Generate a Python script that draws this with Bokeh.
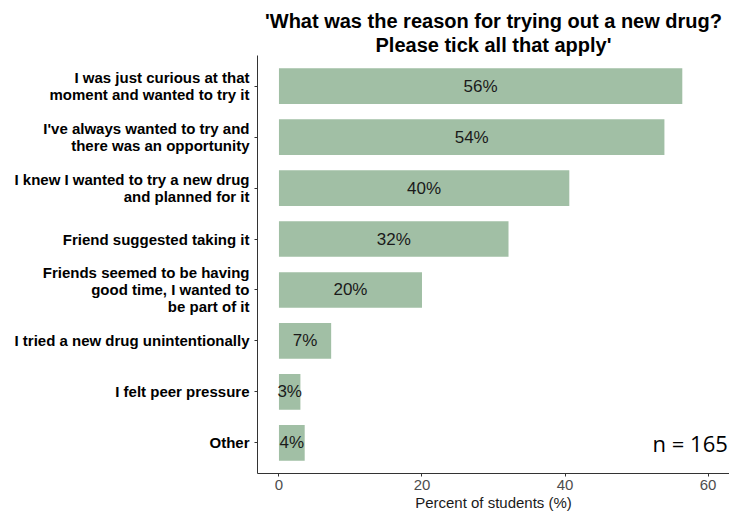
import numpy as np
from bokeh.plotting import figure
from bokeh.models import Range1d, FixedTicker, ColumnDataSource, Title
from bokeh.core.properties import value
from bokeh.embed import file_html
from bokeh.resources import INLINE

reasons = [
    "I was just curious at that\nmoment and wanted to try it",
    "I've always wanted to try and\nthere was an opportunity",
    "I knew I wanted to try a new drug\nand planned for it",
    "Friend suggested taking it",
    "Friends seemed to be having\ngood time, I wanted to\nbe part of it",
    "I tried a new drug unintentionally",
    "I felt peer pressure",
    "Other",
]
percents = [56.4, 53.9, 40.6, 32.1, 20.0, 7.3, 3.0, 3.6]
pct_labels = ["56%", "54%", "40%", "32%", "20%", "7%", "3%", "4%"]
x_ticks = [0, 20, 40, 60]
n_total = "n = 165"
title_lines = ["'What was the reason for trying out a new drug?", "Please tick all that apply'"]

n = len(reasons)
STEP = 6            # one category slot = 6 half-line units
LINE = 2            # one text line = 2 units
ypos = [STEP * (n - 1 - i) for i in range(n)]   # first reason on top
X_MIN, X_MAX = -3, 63

src = ColumnDataSource(dict(
    y=ypos,
    pct=percents,
    mid=[v / 2 for v in percents],
    lab=pct_labels,
))

# one major tick per text line so each line is right-aligned like ggplot;
# the visible tick marks are the minor ticks at category centres
line_ticks, overrides = [], {}
for y, r in zip(ypos, reasons):
    parts = r.split("\n")
    k = len(parts)
    for j, part in enumerate(parts):
        t = y + (k - 1 - 2 * j) * LINE // 2
        line_ticks.append(t)
        overrides[t] = part

p = figure(frame_width=472, frame_height=418, output_backend="svg", toolbar_location=None,
           x_range=Range1d(X_MIN, X_MAX),
           y_range=Range1d(-0.6 * STEP, (n - 1) * STEP + 0.6 * STEP),
           min_border_left=257, min_border_right=0, min_border_top=55, min_border_bottom=0)

p.hbar(y="y", right="pct", left=0, height=0.7 * STEP, source=src,
       fill_color="#a1bfa5", line_color=None)
p.text(x="mid", y="y", text="lab", source=src, text_align="center", text_baseline="middle",
       text_font=value("Liberation Sans"), text_font_size="17px", text_color="#1a1a1a")
p.text(x=[57.5], y=[ypos[-1]], text=[n_total], text_align="center", text_baseline="middle",
       text_font=value("Open Sans"), text_font_size="22px", text_color="#000000")

for line in reversed(title_lines):
    p.add_layout(Title(text=line, align="center", text_font="Liberation Sans",
                       text_font_size="20px", text_font_style="bold",
                       text_color="#000000", standoff=0), "above")

p.xgrid.visible = False
p.ygrid.visible = False
p.outline_line_color = None

yax = p.yaxis[0]
yax.ticker = FixedTicker(ticks=sorted(line_ticks), minor_ticks=ypos)
yax.major_label_overrides = overrides
yax.major_label_text_font = "Liberation Sans"
yax.major_label_text_font_style = "bold"
yax.major_label_text_font_size = "15px"
yax.major_label_text_color = "#000000"
yax.major_label_standoff = 5
yax.axis_line_color = "#333333"
yax.major_tick_line_color = None
yax.major_tick_in = 0
yax.major_tick_out = 0
yax.minor_tick_line_color = "#333333"
yax.minor_tick_in = 0
yax.minor_tick_out = 3

xax = p.xaxis[0]
xax.ticker = FixedTicker(ticks=x_ticks)
xax.axis_label = "Percent of students (%)"
xax.axis_label_text_font = "Liberation Sans"
xax.axis_label_text_font_style = "normal"
xax.axis_label_text_font_size = "15px"
xax.axis_label_text_color = "#1a1a1a"
xax.axis_label_standoff = 1
xax.major_label_text_font = "Liberation Sans"
xax.major_label_text_font_size = "15px"
xax.major_label_text_color = "#4d4d4d"
xax.axis_line_color = "#333333"
xax.major_tick_line_color = "#333333"
xax.major_tick_in = 0
xax.major_tick_out = 3
xax.minor_tick_line_color = None
xax.major_label_standoff = 3

open("out.html", "w").write(file_html(p, INLINE))
